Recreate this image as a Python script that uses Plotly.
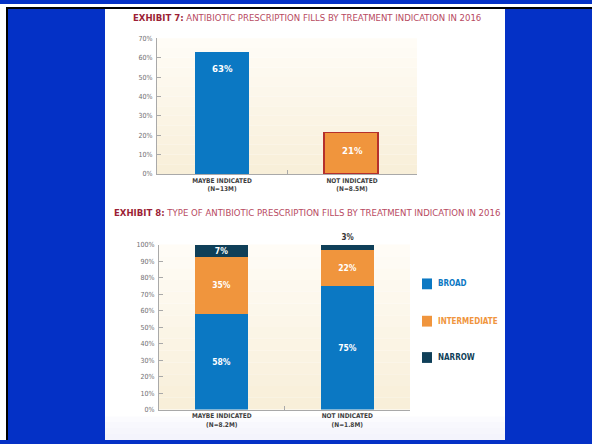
import plotly.graph_objects as go

W, H = 592, 444

# ---- data -------------------------------------------------------------
# Exhibit 7: share of antibiotic prescription fills by treatment indication
ex7_categories = ["MAYBE INDICATED<br>(N=13M)", "NOT INDICATED<br>(N=8.5M)"]
ex7_share = [63, 21]
ex7_ticks = [0, 10, 20, 30, 40, 50, 60, 70]

# Exhibit 8: type of antibiotic by treatment indication (stacked, %)
ex8_categories = ["MAYBE INDICATED<br>(N=8.2M)", "NOT INDICATED<br>(N=1.8M)"]
ex8_series = ["BROAD", "INTERMEDIATE", "NARROW"]
ex8_broad = [58, 75]
ex8_intermediate = [35, 22]
ex8_narrow = [7, 3]
ex8_ticks = [0, 10, 20, 30, 40, 50, 60, 70, 80, 90, 100]

# ---- styling ----------------------------------------------------------
BLUE = "#0b78c3"
ORANGE = "#f0953d"
NAVY = "#0f3f58"
EDGE_RED = "#b5302c"
SLIDE_BLUE = "#0431c6"
AXIS = "#a9a9a9"
TICK_TXT = "#6f6f6f"
CAT_TXT = "#3f3f3f"
NARROW_FONT = "Liberation Sans Narrow, DejaVu Sans Condensed, Arial Narrow, Liberation Sans, sans-serif"


def px_x(v):
    return v / W


def px_y(v):
    return 1 - v / H


fig = go.Figure()

# Exhibit 7 bars
fig.add_trace(go.Bar(
    x=ex7_categories, y=ex7_share, xaxis="x", yaxis="y", width=0.42,
    marker=dict(color=[BLUE, ORANGE], line=dict(color=[BLUE, EDGE_RED], width=[0, 1.6])),
    showlegend=False, hoverinfo="skip",
))

# Exhibit 8 stacked bars
ex8_colors = [BLUE, ORANGE, NAVY]
ex8_values = [ex8_broad, ex8_intermediate, ex8_narrow]
for name, vals, col in zip(ex8_series, ex8_values, ex8_colors):
    positions = ["inside"] * len(vals)
    if name == "NARROW":
        positions = ["inside" if v >= 5 else "outside" for v in vals]
    fig.add_trace(go.Bar(
        x=ex8_categories, y=vals, xaxis="x2", yaxis="y2", width=0.42,
        name=name, showlegend=False,
        marker=dict(color=col, line=dict(width=0)),
        text=[f"{v}%" for v in vals], textposition=positions,
        insidetextanchor="middle", constraintext="none", cliponaxis=False,
        insidetextfont=dict(color="white", size=8.5, family=NARROW_FONT, weight="bold"),
        outsidetextfont=dict(color="#333333", size=8, family=NARROW_FONT, weight="bold"),
        hoverinfo="skip",
    ))

# value labels for Exhibit 7, placed just below each bar top
annotations = []
for cat, v in zip(ex7_categories, ex7_share):
    annotations.append(dict(
        x=cat, y=v, xref="x", yref="y", yshift=-17, showarrow=False,
        text=f"{v}%", font=dict(color="white", size=9.5, family=NARROW_FONT, weight="bold"),
    ))

# exhibit headings
annotations.append(dict(
    x=px_x(131), y=px_y(13.5), xref="paper", yref="paper", xanchor="left", yanchor="middle",
    showarrow=False,
    text="<b>EXHIBIT 7:</b> <span style='color:#b84a62'>ANTIBIOTIC PRESCRIPTION FILLS BY TREATMENT INDICATION IN 2016</span>",
    font=dict(color="#9c1f36", size=9.5, family=NARROW_FONT),
))
annotations.append(dict(
    x=px_x(112), y=px_y(212.5), xref="paper", yref="paper", xanchor="left", yanchor="middle",
    showarrow=False,
    text="<b>EXHIBIT 8:</b> <span style='color:#b84a62'>TYPE OF ANTIBIOTIC PRESCRIPTION FILLS BY TREATMENT INDICATION IN 2016</span>",
    font=dict(color="#9c1f36", size=9.5, family=NARROW_FONT),
))

# slide frame and white panel
shapes = [
    dict(type="rect", xref="paper", yref="paper", x0=0, x1=px_x(6), y0=0, y1=1,
         fillcolor="white", line=dict(width=0), layer="below"),
    dict(type="rect", xref="paper", yref="paper", x0=px_x(6), x1=px_x(8), y0=0, y1=px_y(3),
         fillcolor="black", line=dict(width=0), layer="below"),
    dict(type="rect", xref="paper", yref="paper", x0=0, x1=1, y0=px_y(3), y1=1,
         fillcolor="white", line=dict(width=0), layer="below"),
    dict(type="rect", xref="paper", yref="paper", x0=px_x(6), x1=1, y0=px_y(5), y1=px_y(3),
         fillcolor="black", line=dict(width=0), layer="below"),
    dict(type="rect", xref="paper", yref="paper", x0=px_x(105), x1=px_x(505), y0=0, y1=px_y(5),
         fillcolor="white", line=dict(width=0), layer="below"),
]
# faint cool tint at the bottom of the panel
for i in range(4):
    shapes.append(dict(type="rect", xref="paper", yref="paper", x0=px_x(105), x1=px_x(505),
                       y0=0, y1=px_y(420 + i * 6),
                       fillcolor="rgba(238,240,250,0.25)", line=dict(width=0), layer="below"))

# cream gradient behind each plotting area
top_c = (255, 253, 247)
bot_c = (248, 238, 216)
n_bands = 14
for xr, yr in (("x domain", "y domain"), ("x2 domain", "y2 domain")):
    for i in range(n_bands):
        t = (i + 0.5) / n_bands
        c = tuple(round(top_c[k] + (bot_c[k] - top_c[k]) * t) for k in range(3))
        shapes.append(dict(type="rect", xref=xr, yref=yr, x0=0, x1=1,
                           y0=1 - (i + 1) / n_bands, y1=1 - i / n_bands,
                           fillcolor=f"rgb{c}", line=dict(width=0), layer="below"))

# key for Exhibit 8: colour swatch plus coloured label per series
key_rows = [285, 323, 360]
for name, col, row in zip(ex8_series, ex8_colors, key_rows):
    shapes.append(dict(type="rect", xref="paper", yref="paper",
                       x0=px_x(422), x1=px_x(432), y0=px_y(row + 5.5), y1=px_y(row - 5.5),
                       fillcolor=col, line=dict(width=0)))
    annotations.append(dict(
        x=px_x(436), y=px_y(row), xref="paper", yref="paper", xanchor="left", yanchor="middle",
        showarrow=False, text=name,
        font=dict(color=col, size=8, family=NARROW_FONT, weight="bold"),
    ))

common_y = dict(showline=True, linecolor=AXIS, linewidth=1, ticks="inside", ticklen=4,
                tickcolor=AXIS, showgrid=False, zeroline=False, ticklabelstandoff=2,
                tickfont=dict(size=7, color=TICK_TXT, family=NARROW_FONT), fixedrange=True)
common_x = dict(type="category", range=[-0.5, 1.5], showline=True, linecolor=AXIS, linewidth=1,
                ticks="inside", ticklen=4, tickcolor=AXIS, tickson="boundaries", showgrid=False,
                tickfont=dict(size=6.5, color=CAT_TXT, family=NARROW_FONT, weight="bold"),
                fixedrange=True)

fig.update_layout(
    width=W, height=H, margin=dict(l=0, r=0, t=0, b=0),
    paper_bgcolor=SLIDE_BLUE, plot_bgcolor="rgba(0,0,0,0)",
    barmode="stack", bargap=0, showlegend=False,
    xaxis=dict(domain=[px_x(157), px_x(417)], anchor="y", **common_x),
    yaxis=dict(domain=[px_y(173), px_y(35)], anchor="x", range=[0, 70],
               tickvals=ex7_ticks, ticktext=[f"{v}%" for v in ex7_ticks], **common_y),
    xaxis2=dict(domain=[px_x(159), px_x(410)], anchor="y2", **common_x),
    yaxis2=dict(domain=[px_y(413), px_y(245)], anchor="x2", range=[0, 100],
                tickvals=ex8_ticks, ticktext=[f"{v}%" for v in ex8_ticks], **common_y),
    annotations=annotations,
    shapes=shapes,
)

fig.write_html("out.html")
